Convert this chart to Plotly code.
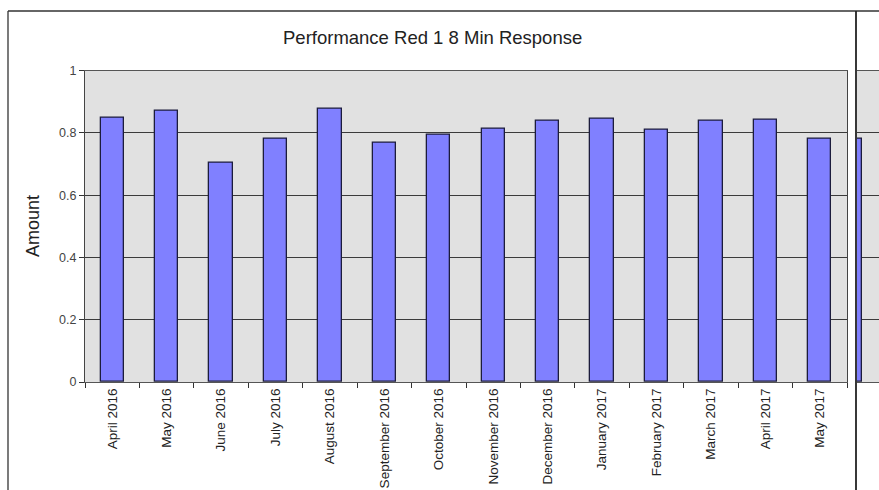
import plotly.graph_objects as go

# Monthly share of Red 1 calls answered within 8 minutes
months = ["April 2016", "May 2016", "June 2016", "July 2016", "August 2016",
          "September 2016", "October 2016", "November 2016", "December 2016",
          "January 2017", "February 2017", "March 2017", "April 2017", "May 2017"]
amount = [0.850, 0.871, 0.706, 0.781, 0.877, 0.768, 0.796, 0.815, 0.839,
          0.845, 0.811, 0.839, 0.842, 0.780]
y_ticks = [0, 0.2, 0.4, 0.6, 0.8, 1]
y_tick_text = ["0", "0.2", "0.4", "0.6", "0.8", "1"]

W, H = 879, 490
FONT = "Liberation Sans, Arial, sans-serif"
BAR_FILL = "#8080FF"
BAR_LINE = "#1c1c3c"
PLOT_BG = "#E1E1E1"
GRID = "#3a3a3a"


def px_x(v):
    return v / W


def px_y(v):
    return 1 - v / H


fig = go.Figure()

fig.add_trace(go.Bar(
    x=months, y=amount, width=0.43,
    marker=dict(color=BAR_FILL, line=dict(color=BAR_LINE, width=1.3)),
    xaxis="x", yaxis="y", showlegend=False,
))

# narrow continuation panel on the right edge, showing the last month again
fig.add_trace(go.Bar(
    x=[0], y=[amount[-1]], width=0.43,
    marker=dict(color=BAR_FILL, line=dict(color=BAR_LINE, width=1.3)),
    xaxis="x2", yaxis="y2", showlegend=False,
))

y_dom = [px_y(382), px_y(70.7)]

fig.update_layout(
    width=W, height=H,
    margin=dict(l=0, r=0, t=0, b=0, autoexpand=False),
    paper_bgcolor="white",
    plot_bgcolor=PLOT_BG,
    bargap=0,
    font=dict(family=FONT, color="#222"),
    xaxis=dict(
        domain=[px_x(85), px_x(847)],
        type="category",
        automargin=False,
        tickangle=-90,
        tickfont=dict(family=FONT, size=13.5, color="#222"),
        ticks="outside", ticklen=5, tickcolor="#333", tickson="boundaries",
        showline=True, linecolor="#555", linewidth=1.3, mirror=True,
        showgrid=False,
        anchor="y",
    ),
    yaxis=dict(
        domain=y_dom,
        range=[0, 1],
        automargin=False,
        tickvals=y_ticks, ticktext=y_tick_text,
        tickfont=dict(family=FONT, size=12.5, color="#444"),
        ticks="outside", ticklen=5, tickcolor="#333",
        showline=True, linecolor="#444", linewidth=1.3, mirror=True,
        showgrid=True, gridcolor=GRID, gridwidth=1.2,
        zeroline=False,
        anchor="x",
    ),
    xaxis2=dict(
        domain=[px_x(857), 1.0],
        range=[0.215 - 5 / 54.4, 0.215 - 5 / 54.4 + 22 / 54.4],
        automargin=False,
        showticklabels=False, ticks="", showgrid=False, zeroline=False,
        showline=True, linecolor="#555", linewidth=1.3, mirror=True,
        anchor="y2",
    ),
    yaxis2=dict(
        domain=y_dom,
        range=[0, 1],
        automargin=False,
        tickvals=y_ticks,
        showticklabels=False, ticks="",
        showline=False,
        showgrid=True, gridcolor=GRID, gridwidth=1.2,
        zeroline=False,
        anchor="x2",
    ),
    annotations=[
        dict(text="Performance Red 1 8 Min Response",
             x=px_x(432), y=px_y(37), xref="paper", yref="paper",
             xanchor="center", yanchor="middle", showarrow=False,
             font=dict(family=FONT, size=18.5, color="#222")),
        dict(text="Amount",
             x=px_x(33), y=px_y(226), xref="paper", yref="paper",
             xanchor="center", yanchor="middle", showarrow=False, textangle=-90,
             font=dict(family=FONT, size=18, color="#222")),
    ],
    shapes=[
        # chart frame
        dict(type="line", xref="paper", yref="paper",
             x0=px_x(8), x1=px_x(8), y0=px_y(11), y1=0,
             line=dict(color="#333", width=1.3)),
        dict(type="line", xref="paper", yref="paper",
             x0=px_x(8), x1=1, y0=px_y(11), y1=px_y(11),
             line=dict(color="#333", width=1.3)),
        dict(type="line", xref="paper", yref="paper",
             x0=px_x(856), x1=px_x(856), y0=px_y(11), y1=0,
             line=dict(color="#222", width=1.8)),
    ],
)

fig.write_html("out.html")
